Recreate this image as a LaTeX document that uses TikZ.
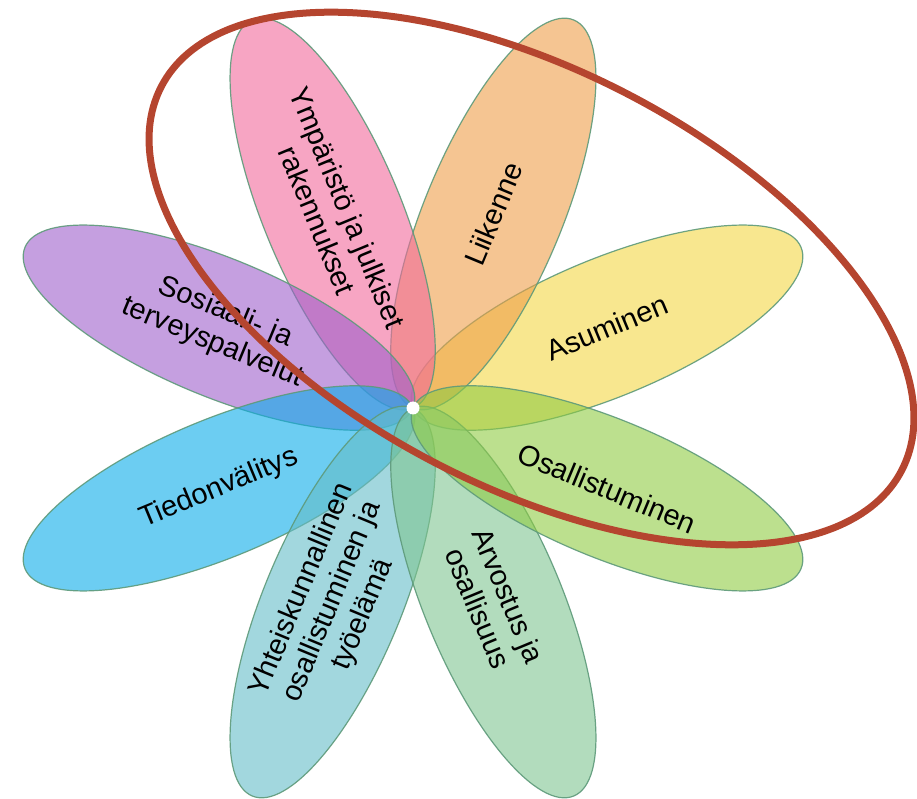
\documentclass[tikz,border=0pt]{standalone}
\usepackage{fontspec}
\setmainfont{Liberation Sans}
\usetikzlibrary{calc}

\definecolor{petalline}{HTML}{5E9A7A}
\definecolor{ringred}{HTML}{B5452F}
\definecolor{yellowpetal}{RGB}{243,215,68}
\definecolor{orangepetal}{RGB}{238,158,73}
\definecolor{pinkpetal}{RGB}{242,105,155}
\definecolor{purplepetal}{RGB}{158,95,203}
\definecolor{bluepetal}{RGB}{10,172,233}
\definecolor{tealpetal}{RGB}{100,188,200}
\definecolor{mintpetal}{RGB}{127,197,145}
\definecolor{greenpetal}{RGB}{143,203,67}

\begin{document}
\begin{tikzpicture}[x=1pt, y=1pt, line join=round,
	petal/.style={draw=petalline, line width=1.2pt, fill opacity=0.6, draw opacity=0.9},
	lbl/.style={align=center, text=black, font=\fontsize{29}{33}\selectfont}]
	
	\useasboundingbox (0,0) rectangle (917,798);
	\coordinate (c) at (413,390);
	
	% petals, one every 45 degrees
	\foreach \ang/\col in {22.5/yellowpetal, 67.5/orangepetal, 112.5/pinkpetal, 157.5/purplepetal,
		202.5/bluepetal, 247.5/tealpetal, 292.5/mintpetal, 337.5/greenpetal}{
		\begin{scope}[shift={(c)}, rotate=\ang]
			\draw[petal, fill=\col] (210,0) ellipse (210 and 69);
		\end{scope}
	}
	
	% white dot in the middle
	\fill[white] (c) circle (6.5);
	
	% petal labels
	\node[lbl, rotate=22.5] (asuminen) at ($(c)+(22.5:210)$) {Asuminen};
	\node[lbl, rotate=67.5] (liikenne) at ($(c)+(67.5:210)$) {Liikenne};
	\node[lbl, rotate=-67.5] (ymparisto) at ($(c)+(112.5:210)$) {Ympäristö ja julkiset\\rakennukset};
	\node[lbl, rotate=-22.5] (sosiaali) at ($(c)+(157.5:210)$) {Sosiaali- ja\\terveyspalvelut};
	\node[lbl, rotate=22.5] (tiedon) at ($(c)+(202.5:210)$) {Tiedonvälitys};
	\node[lbl, rotate=67.5] (yhteis) at ($(c)+(247.5:210)$) {Yhteiskunnallinen\\osallistuminen ja\\työelämä};
	\node[lbl, rotate=-67.5] (arvostus) at ($(c)+(292.5:210)$) {Arvostus ja\\osallisuus};
	\node[lbl, rotate=-22.5] (osallistuminen) at ($(c)+(337.5:210)$) {Osallistuminen};
	
	% red ring round the upper right petals
	\coordinate (ringc) at (531.5,519.5);
	\begin{scope}[shift={(ringc)}, rotate=-27.4]
		\draw[ringred, line width=7pt] (0,0) ellipse (417 and 208);
	\end{scope}
	
\end{tikzpicture}
\end{document}
